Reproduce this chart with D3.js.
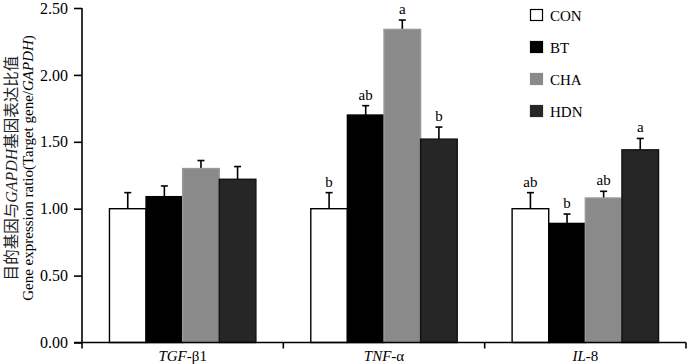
<!DOCTYPE html>
<html><head><meta charset="utf-8">
<script src="https://cdn.jsdelivr.net/npm/d3@7/dist/d3.min.js"></script>
<style>body{margin:0;background:#fff}svg{display:block}</style>
</head><body>
<svg id="c" width="700" height="364"></svg>
<script>
const genes = ["TGF-β1", "TNF-α", "IL-8"];
const geneItalic = ["TGF", "TNF", "IL"];
const geneRest = ["-β1", "-α", "-8"];
const groups = ["CON", "BT", "CHA", "HDN"];
const CON = [1.00, 1.00, 1.00];
const BT  = [1.09, 1.70, 0.89];
const CHA = [1.30, 2.34, 1.08];
const HDN = [1.22, 1.52, 1.44];
const CON_err = [0.12, 0.12, 0.12];
const BT_err  = [0.08, 0.07, 0.07];
const CHA_err = [0.06, 0.07, 0.05];
const HDN_err = [0.095, 0.09, 0.085];
const CON_sig = ["", "b", "ab"];
const BT_sig  = ["", "ab", "b"];
const CHA_sig = ["", "a", "ab"];
const HDN_sig = ["", "b", "a"];
const yTicks = [0, 0.5, 1.0, 1.5, 2.0, 2.5];

const series = {CON, BT, CHA, HDN};
const errs = {CON: CON_err, BT: BT_err, CHA: CHA_err, HDN: HDN_err};
const sigs = {CON: CON_sig, BT: BT_sig, CHA: CHA_sig, HDN: HDN_sig};
const fills = {CON: "#ffffff", BT: "#000000", CHA: "#8a8a8a", HDN: "#262626"};
const strokes = {CON: "#000", BT: "#000", CHA: "#9a9a9a", HDN: "#111"};

const svg = d3.select("#c");
const L = 82, R = 686, T = 8, B = 342.5;
const serif = "'Liberation Serif','Times New Roman',serif";

const x = d3.scaleBand().domain(genes).range([L, R]).padding(0);
const xi = d3.scaleBand().domain(groups).range([0, x.bandwidth()]).paddingOuter(0.75).paddingInner(0);
const y = d3.scaleLinear().domain([0, 2.5]).range([B, T]);

const g = svg.append("g");
genes.forEach((gene, i) => {
  groups.forEach(k => {
    const v = series[k][i], e = errs[k][i];
    const bx = x(gene) + xi(k), bw = xi.bandwidth();
    const cx = bx + bw / 2;
    g.append("line").attr("x1", cx).attr("x2", cx).attr("y1", y(v)).attr("y2", y(v + e))
      .attr("stroke", "#000").attr("stroke-width", 1.6);
    g.append("line").attr("x1", cx - 3.5).attr("x2", cx + 3.5).attr("y1", y(v + e)).attr("y2", y(v + e))
      .attr("stroke", "#000").attr("stroke-width", 1.6);
    g.append("rect").attr("x", bx).attr("y", y(v)).attr("width", bw).attr("height", y(0) - y(v))
      .attr("fill", fills[k]).attr("stroke", strokes[k]).attr("stroke-width", 1.4);
    if (sigs[k][i]) {
      g.append("text").attr("x", cx).attr("y", y(v + e) - 6).attr("text-anchor", "middle")
        .attr("font-family", serif).attr("font-size", 15).attr("fill", "#000").text(sigs[k][i]);
    }
  });
});

// Y axis
const ya = svg.append("g").attr("transform", `translate(${L},0)`)
  .call(d3.axisLeft(y).tickValues(yTicks).tickFormat(d3.format(".2f")).tickSize(8).tickPadding(6));
ya.select(".domain").attr("stroke-width", 1.6).attr("d", `M0,${T}V${B}`);
ya.selectAll(".tick line").attr("stroke-width", 1.6);
ya.selectAll(".tick text").attr("font-family", serif).attr("font-size", 16).attr("fill", "#000");

// X axis
const xa = svg.append("g").attr("transform", `translate(0,${B})`);
xa.append("line").attr("x1", L - 8).attr("x2", R).attr("y1", 0).attr("y2", 0).attr("stroke", "#000").attr("stroke-width", 1.6);
const bounds = genes.map(d => x(d)).concat([x(genes[genes.length - 1]) + x.bandwidth()]);
bounds.forEach(b => xa.append("line").attr("x1", b).attr("x2", b).attr("y1", 0).attr("y2", 6).attr("stroke", "#000").attr("stroke-width", 1.6));
genes.forEach((gene, i) => {
  const t = xa.append("text").attr("x", x(gene) + x.bandwidth() / 2).attr("y", 18)
    .attr("text-anchor", "middle").attr("font-family", serif).attr("font-size", 15).attr("fill", "#000");
  t.append("tspan").attr("font-style", "italic").text(geneItalic[i]);
  t.append("tspan").text(geneRest[i]);
});

// Y title
const yt = svg.append("g").attr("transform", `translate(0,168) rotate(-90)`);
const t1 = yt.append("text").attr("x", 0).attr("y", 17).attr("text-anchor", "middle")
  .attr("font-family", "'Liberation Serif','Noto Sans CJK SC',serif").attr("font-size", 15.5).attr("fill", "#222");
t1.append("tspan").attr("font-family", "'Noto Sans CJK SC'").text("目的基因与");
t1.append("tspan").attr("font-style", "italic").attr("font-size", 16).text("GAPDH");
t1.append("tspan").attr("font-family", "'Noto Sans CJK SC'").text("基因表达比值");
const t2 = yt.append("text").attr("x", 0).attr("y", 33).attr("text-anchor", "middle")
  .attr("font-family", serif).attr("font-size", 15).attr("fill", "#000");
t2.append("tspan").text("Gene expression ratio(Target gene/");
t2.append("tspan").attr("font-style", "italic").text("GAPDH");
t2.append("tspan").text(")");

// Legend
const lg = svg.append("g");
groups.forEach((k, i) => {
  const ly = 15 + i * 32;
  lg.append("rect").attr("x", 530.5).attr("y", ly - 5.5).attr("width", 12).attr("height", 11)
    .attr("fill", fills[k]).attr("stroke", k === "CON" ? "#000" : fills[k]).attr("stroke-width", 1.2);
  lg.append("text").attr("x", 550).attr("y", ly + 5.5).attr("font-family", serif).attr("font-size", 15)
    .attr("fill", "#000").text(k);
});
</script>
</body></html>
